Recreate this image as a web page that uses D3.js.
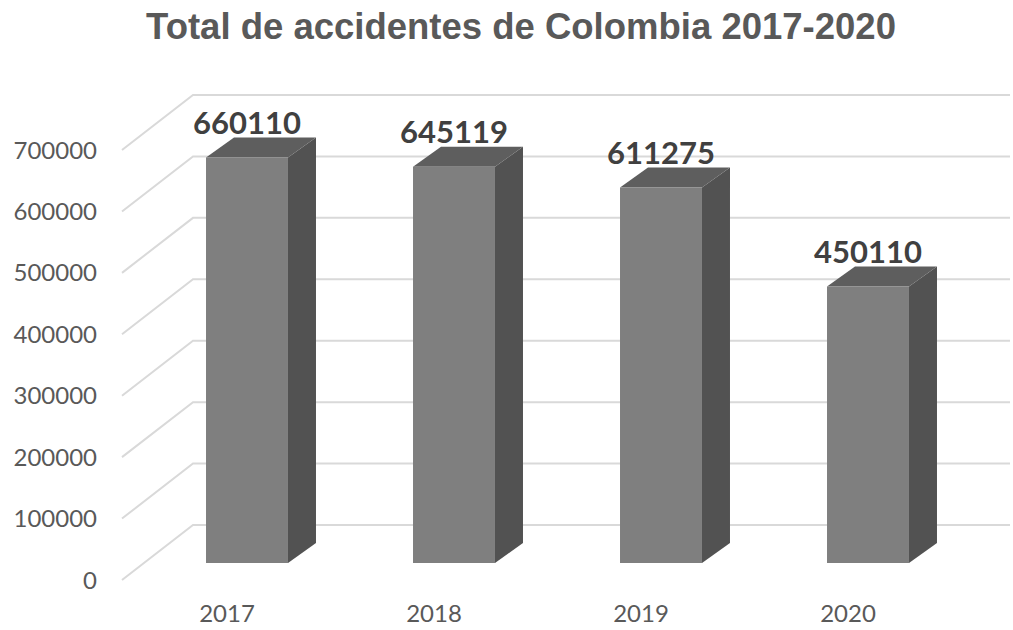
<!DOCTYPE html>
<html>
<head>
<meta charset="utf-8">
<script src="https://cdn.jsdelivr.net/npm/d3@7"></script>
<style>
  html, body { margin: 0; padding: 0; background: #ffffff; }
  svg { display: block; }
</style>
</head>
<body>
<svg id="chart" width="1013" height="630"></svg>
<script>
const title = "Total de accidentes de Colombia 2017-2020";
const categories = ["2017", "2018", "2019", "2020"];
const values = [660110, 645119, 611275, 450110];
const yTicks = [0, 100000, 200000, 300000, 400000, 500000, 600000, 700000];

const svg = d3.select("#chart");
const W = 1013, H = 630;

// back-wall vertical scale
const yBack = d3.scaleLinear().domain([0, 700000]).range([525, 95]);
const floorDepth = { dx: -71, dy: 55 };   // front edge of floor relative to back wall
const barPlaneDy = 38;                     // bar front face relative to back wall
const barDepth = { dx: 28, dy: -20 };

const x = d3.scaleBand().domain(categories)
  .range([143.5, 971.5]).paddingInner(0.604).paddingOuter(0.302);

// title
svg.append("text")
  .attr("x", 521).attr("y", 39)
  .attr("text-anchor", "middle")
  .attr("font-family", "'Liberation Sans', Arial, sans-serif")
  .attr("font-weight", "bold")
  .attr("font-size", 36.5)
  .attr("fill", "#595959")
  .text(title);

// gridlines: diagonal on left floor edge + horizontal on back wall
const grid = svg.append("g").attr("stroke", "#d9d9d9").attr("stroke-width", 2).attr("fill", "none");
yTicks.forEach(v => {
  const yb = yBack(v);
  const xb = 193;
  grid.append("path")
    .attr("d", `M${xb + floorDepth.dx},${yb + floorDepth.dy}L${xb},${yb}L${1010},${yb}`);
});

// y tick labels
svg.append("g").selectAll("text").data(yTicks).join("text")
  .attr("x", 97)
  .attr("y", d => yBack(d) + floorDepth.dy)
  .attr("dy", "0.36em")
  .attr("text-anchor", "end")
  .attr("font-family", "Lato, 'Open Sans', sans-serif")
  .attr("font-size", 24)
  .attr("fill", "#595959")
  .text(d => d);

// bars
const bars = svg.append("g");
const bw = x.bandwidth();
categories.forEach((c, i) => {
  const v = values[i];
  const x0 = x(c), x1 = x0 + bw;
  const yb = yBack(0) + barPlaneDy;
  const yt = yBack(v) + barPlaneDy;
  const dx = barDepth.dx, dy = barDepth.dy;
  // side
  bars.append("path")
    .attr("d", `M${x1},${yt}L${x1 + dx},${yt + dy}L${x1 + dx},${yb + dy}L${x1},${yb}Z`)
    .attr("fill", "#525252");
  // top
  bars.append("path")
    .attr("d", `M${x0},${yt}L${x0 + dx},${yt + dy}L${x1 + dx},${yt + dy}L${x1},${yt}Z`)
    .attr("fill", "#5e5e5e");
  // front
  bars.append("rect")
    .attr("x", x0).attr("y", yt).attr("width", bw).attr("height", yb - yt)
    .attr("fill", "#7f7f7f");
  // data label
  bars.append("text")
    .attr("x", x0 + bw / 2)
    .attr("y", yt + dy - 4)
    .attr("text-anchor", "middle")
    .attr("font-family", "Lato, 'Open Sans', sans-serif")
    .attr("font-weight", "bold")
    .attr("font-size", 31)
    .attr("fill", "#404040")
    .text(v);
});

// category labels
svg.append("g").selectAll("text").data(categories).join("text")
  .attr("x", d => x(d) + bw / 2 - 20)
  .attr("y", 622)
  .attr("text-anchor", "middle")
  .attr("font-family", "Lato, 'Open Sans', sans-serif")
  .attr("font-size", 24)
  .attr("fill", "#595959")
  .text(d => d);
</script>
</body>
</html>
